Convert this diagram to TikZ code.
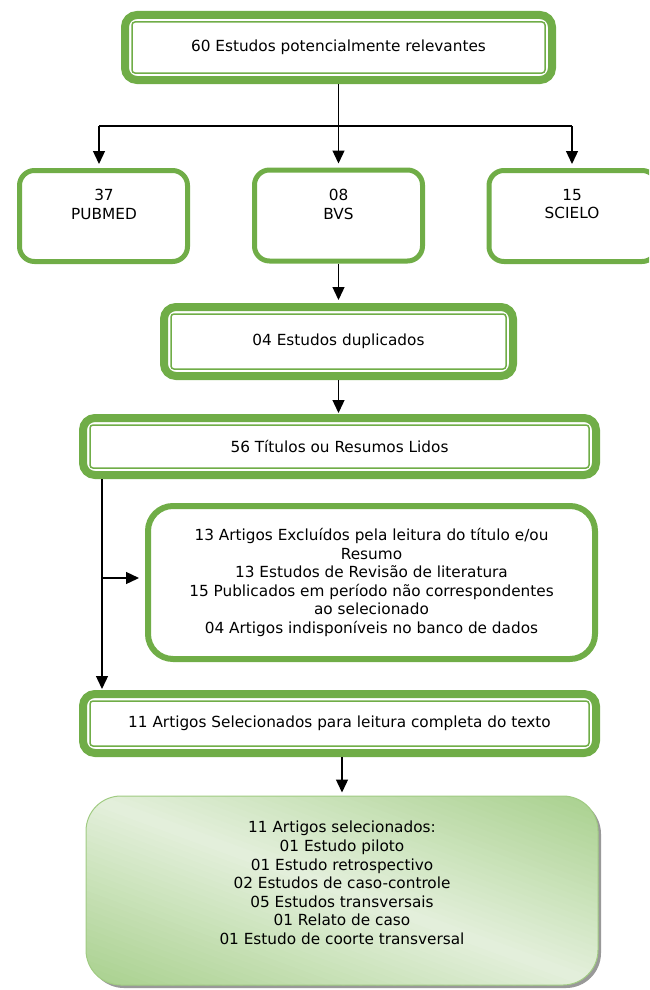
\documentclass[tikz,border=0pt]{standalone}
\usepackage{fontspec}
\setmainfont{DejaVu Sans}
\usetikzlibrary{arrows.meta,calc}
\definecolor{gr}{HTML}{70AD47}
\definecolor{gdark}{HTML}{A8D08D}
\definecolor{glight}{HTML}{E4F0DC}
\newcommand\dframe[1]{\draw[gr, line width=1.5pt, rounded corners=3pt] ([shift={(11pt,-11pt)}]#1.north west) rectangle ([shift={(-11pt,11pt)}]#1.south east);}
\begin{document}
\begin{tikzpicture}[x=1pt,y=1pt,
  font=\fontsize{15.3}{18.6}\selectfont,
  dbox/.style={draw=gr, line width=8pt, rounded corners=12pt, fill=white, inner sep=0pt, align=center},
  sbox/.style={draw=gr, line width=5pt, rounded corners=15pt, fill=white, minimum width=168pt, minimum height=91pt, inner sep=0pt},
  lbl/.style={anchor=north, align=center, inner sep=0pt},
  ln/.style={line width=1.3pt, black},
  arr/.style={ln, -{Triangle[width=12pt,length=13pt]}}
]
\useasboundingbox (0,0) rectangle (649,-990);
\clip (0,0) rectangle (649,-990);

% boxes
\node[dbox, minimum width=427pt, minimum height=65pt] (top) at (338.5,-47.5) {60 Estudos potencialmente relevantes};
\dframe{top}

\node[sbox] (pub) at (103.5,-216) {};
\node[sbox] (bvs) at (338.5,-215.5) {};
\node[sbox] (sci) at (573,-216) {};
\node[lbl] (pubt) at (104,-189) {37\\PUBMED};
\node[lbl] (bvst) at (338.5,-189) {08\\BVS};
\node[lbl] (scit) at (572,-189) {15\\SCIELO};

\node[dbox, minimum width=349pt, minimum height=69pt] (dup) at (338.5,-341.5) {04 Estudos duplicados};
\dframe{dup}

\node[dbox, minimum width=513pt, minimum height=57pt] (t56) at (339.5,-446.5) {56 Títulos ou Resumos Lidos};
\dframe{t56}

\node[draw=gr, line width=6pt, rounded corners=25pt, fill=white, minimum width=447pt, minimum height=153pt, align=center, inner sep=0pt] (exc) at (371.5,-582.5)
  {13 Artigos Excluídos pela leitura do título e/ou\\Resumo\\13 Estudos de Revisão de literatura\\15 Publicados em período não correspondentes\\ao selecionado\\04 Artigos indisponíveis no banco de dados};

\node[dbox, minimum width=513pt, minimum height=59pt] (sel) at (339.5,-723.5) {11 Artigos Selecionados para leitura completa do texto};
\dframe{sel}

% final box: shadow, gradient bands, border
\fill[black!40, rounded corners=35pt] (89,-799) rectangle (601,-988);
\begin{scope}
  \clip[rounded corners=35pt] (86,-796) rectangle (598,-985);
  \begin{scope}[shift={(86,-985)}, xscale=512, yscale=189]
    \foreach \k in {0,...,59} {
      \pgfmathsetmacro\ua{\k/30}
      \pgfmathsetmacro\ub{(\k+1)/30+0.005}
      \pgfmathsetmacro\tt{abs((\k+0.5)/30-1)*100}
      \fill[gdark!\tt!glight] (\ua+1,-1) -- (\ub+1,-1) -- (\ub-2,2) -- (\ua-2,2) -- cycle;
    }
  \end{scope}
\end{scope}
\node[draw=gdark!85!gr, line width=1pt, rounded corners=35pt, minimum width=512pt, minimum height=189pt, inner sep=0pt] (fin) at (342,-890.5) {};
\node[align=center, inner sep=0pt] (fint) at (342,-883)
  {11 Artigos selecionados:\\01 Estudo piloto\\01 Estudo retrospectivo\\02 Estudos de caso-controle\\05 Estudos transversais\\01 Relato de caso\\01 Estudo de coorte transversal};

% connectors
\coordinate (j) at (338.5,-126);
\coordinate (jl) at (99,-126);
\coordinate (jr) at (572,-126);
\draw[ln] (top.south) -- (j);
\draw[ln] (jl) -- (jr);
\draw[arr, shorten >=4pt] (jl) -- (jl |- pub.north);
\draw[arr, shorten >=4pt] (j) -- (bvs.north);
\draw[arr, shorten >=4pt] (jr) -- (jr |- sci.north);
\draw[arr, shorten >=3pt] (bvs.south) -- (dup.north);
\draw[arr, shorten >=1pt] (dup.south) -- (dup.south |- t56.north);
\coordinate (L1) at (102,-479);
\coordinate (L2) at (102,-578);
\draw[arr, shorten >=1pt] (L1) -- (L1 |- sel.north);
\draw[arr, shorten >=6pt] (L2) -- (L2 -| exc.west);
\coordinate (S) at (342,-757);
\draw[arr, shorten >=3pt] (S) -- (S |- fin.north);
\end{tikzpicture}
\end{document}
